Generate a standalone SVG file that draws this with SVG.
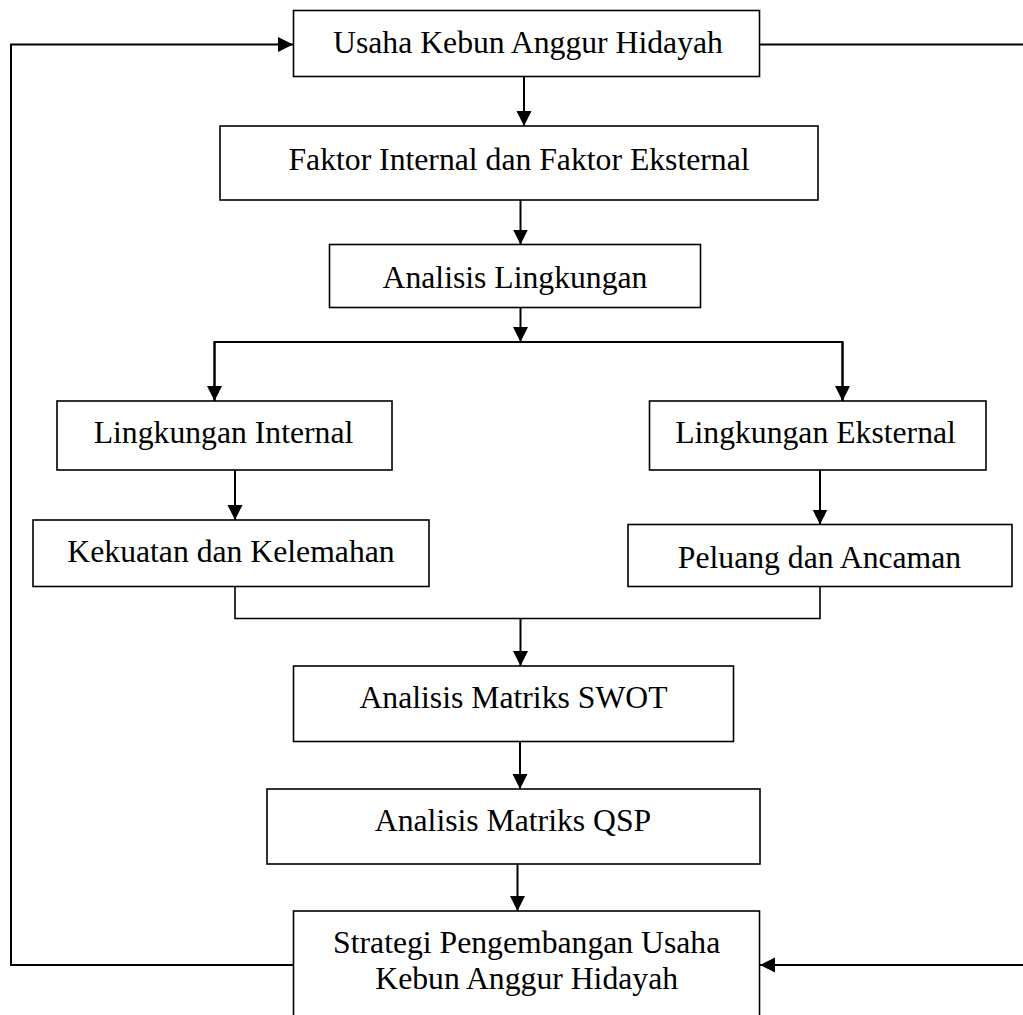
<svg xmlns="http://www.w3.org/2000/svg" width="1023" height="1015" viewBox="0 0 1023 1015">
<defs>
<marker id="ah" markerUnits="userSpaceOnUse" markerWidth="16" markerHeight="16" refX="15" refY="7.5" orient="auto">
<path d="M0,0 L15,7.5 L0,15 z" fill="#000"/>
</marker>
<style>
.box{fill:#fff;stroke:#000;stroke-width:1.6}
.t{font-family:"Liberation Serif","Times New Roman",serif;font-size:31.7px;fill:#000;text-anchor:middle}
.c{fill:none;stroke:#000;stroke-width:2}
.a{fill:none;stroke:#000;stroke-width:2;marker-end:url(#ah)}
</style>
</defs>
<rect width="1023" height="1015" fill="#fff"/>
<g id="connectors">
<polyline class="a" points="293,965 11,965 11,44.5 293,44.5"/>
<polyline class="c" points="760,44.5 1023,44.5"/>
<line class="a" x1="1023" y1="965" x2="760" y2="965"/>
<line class="a" x1="524" y1="77" x2="524" y2="126"/>
<line class="a" x1="520.5" y1="200" x2="520.5" y2="244.5"/>
<line class="a" x1="520.5" y1="308" x2="520.5" y2="342"/>
<polyline class="c" points="214.5,401 214.5,342 842.5,342 842.5,401"/>
<line class="a" x1="214.5" y1="342" x2="214.5" y2="401"/>
<line class="a" x1="842.5" y1="342" x2="842.5" y2="401"/>
<line class="a" x1="235" y1="470" x2="235" y2="520"/>
<line class="a" x1="820" y1="470" x2="820" y2="524.5"/>
<polyline class="c" style="stroke-width:1.6" points="235,587 235,618.5 820,618.5 820,587"/>
<line class="a" x1="520.5" y1="618.5" x2="520.5" y2="666"/>
<line class="a" x1="520" y1="741.5" x2="520" y2="789"/>
<line class="a" x1="517.5" y1="864.5" x2="517.5" y2="911"/>
</g>
<g id="n1"><rect class="box" x="293.5" y="10.5" width="466" height="66"/><text class="t" x="528" y="53">Usaha Kebun Anggur Hidayah</text></g>
<g id="n2"><rect class="box" x="220" y="126" width="598" height="74"/><text class="t" x="519" y="170">Faktor Internal dan Faktor Eksternal</text></g>
<g id="n3"><rect class="box" x="329.5" y="244.5" width="371" height="63"/><text class="t" x="515" y="288">Analisis Lingkungan</text></g>
<g id="n4"><rect class="box" x="57" y="401" width="335" height="69"/><text class="t" x="223.5" y="443">Lingkungan Internal</text></g>
<g id="n5"><rect class="box" x="649.5" y="401" width="336.5" height="69"/><text class="t" x="815.5" y="443">Lingkungan Eksternal</text></g>
<g id="n6"><rect class="box" x="33" y="520" width="396" height="66.5"/><text class="t" x="231" y="562">Kekuatan dan Kelemahan</text></g>
<g id="n7"><rect class="box" x="628" y="524.5" width="384" height="62"/><text class="t" x="819.5" y="568">Peluang dan Ancaman</text></g>
<g id="n8"><rect class="box" x="293.5" y="666" width="440" height="75.5"/><text class="t" x="513.5" y="708">Analisis Matriks SWOT</text></g>
<g id="n9"><rect class="box" x="267" y="789" width="493" height="75"/><text class="t" x="513" y="831">Analisis Matriks QSP</text></g>
<g id="n10"><rect class="box" x="293.5" y="911" width="466" height="130"/><text class="t" x="526.7" y="953">Strategi Pengembangan Usaha</text><text class="t" x="526.7" y="989">Kebun Anggur Hidayah</text></g>
</svg>
